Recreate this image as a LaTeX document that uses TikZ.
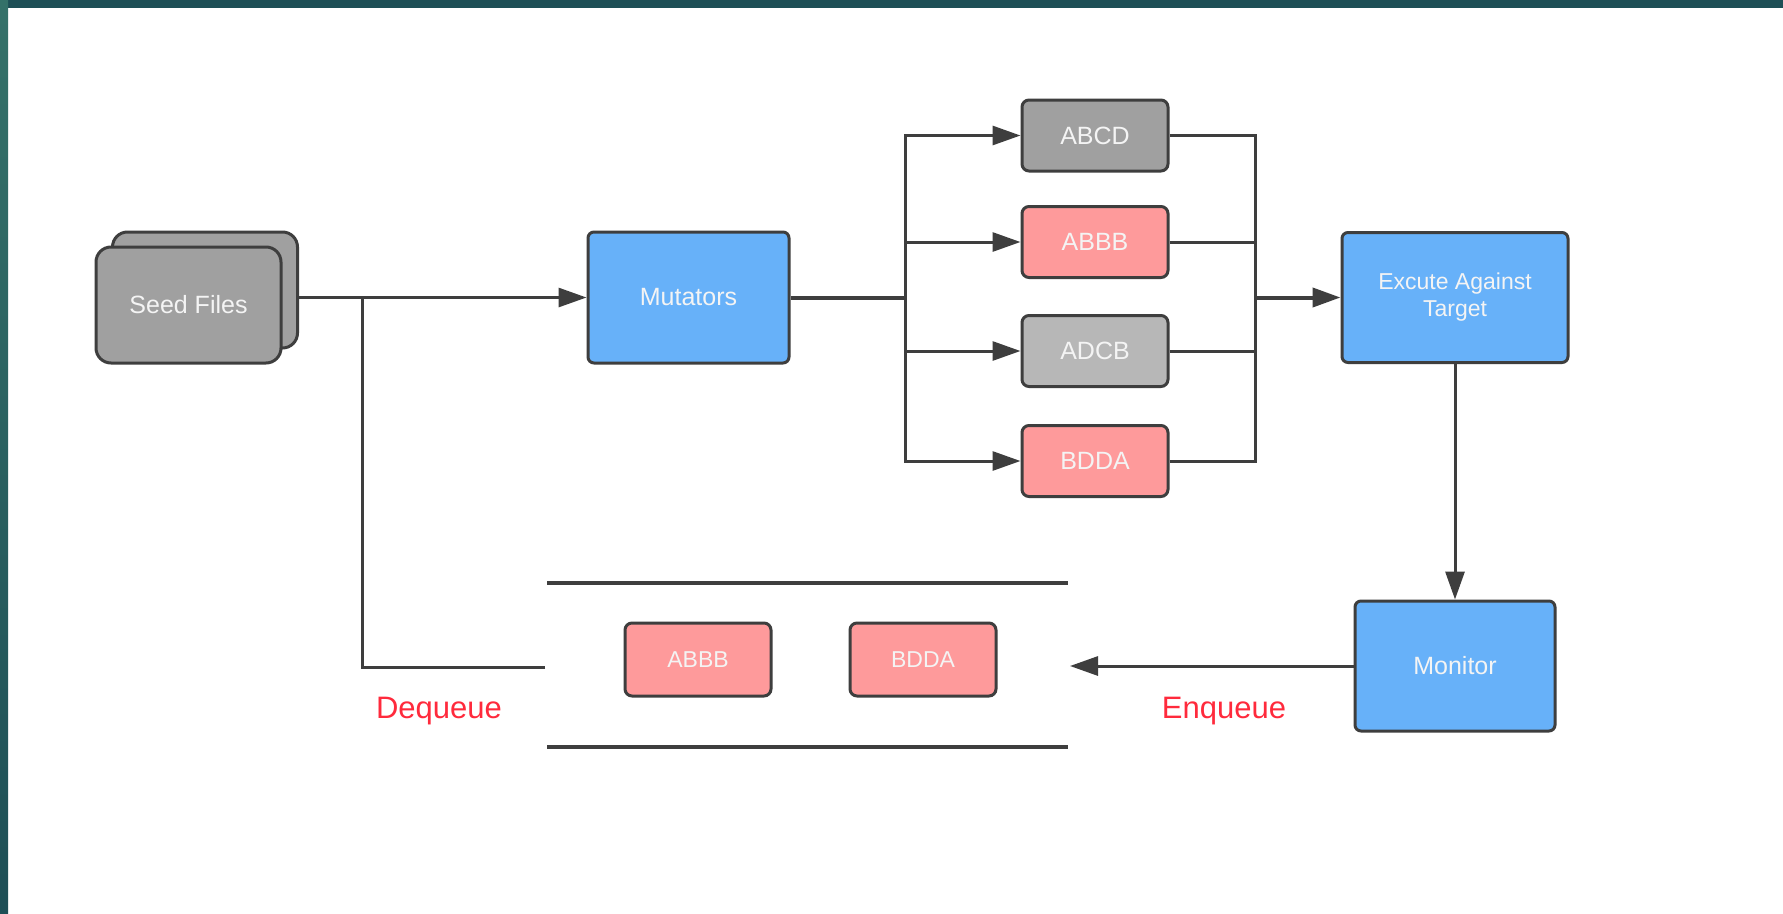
\documentclass[tikz,border=0pt]{standalone}
\usepackage{fontspec}
\setmainfont{Liberation Sans}
\usetikzlibrary{arrows.meta}

\definecolor{edge}{HTML}{3E3E3E}
\definecolor{grayfill}{HTML}{A0A0A0}
\definecolor{lightgrayfill}{HTML}{B7B7B7}
\definecolor{pinkfill}{HTML}{FE9A9B}
\definecolor{bluefill}{HTML}{67B1F9}
\definecolor{labelred}{HTML}{FF2A3C}
\definecolor{tealdark}{HTML}{1E4F56}
\definecolor{teallight}{HTML}{3A7A6E}
\definecolor{boxtext}{HTML}{F4F4F4}

\tikzset{
  box/.style={draw=edge, line width=3pt, rounded corners=7pt, inner sep=0pt,
    text=boxtext, font=\fontsize{25}{30}\selectfont, align=center},
  graybox/.style={box, fill=grayfill, minimum width=146pt, minimum height=71pt},
  lightbox/.style={box, fill=lightgrayfill, minimum width=146pt, minimum height=71pt},
  pinkbox/.style={box, fill=pinkfill, minimum width=146pt, minimum height=71pt},
  queuebox/.style={box, fill=pinkfill, minimum width=146pt, minimum height=73pt,
    font=\fontsize{23}{28}\selectfont},
  bluebox/.style={box, fill=bluefill, rounded corners=6pt},
  seedbox/.style={box, fill=grayfill, rounded corners=15pt,
    minimum width=185pt, minimum height=116pt},
  conn/.style={draw=edge, line width=3pt},
  arrow/.style={conn, -{Triangle[length=28pt,width=19pt]}},
  qline/.style={draw=edge, line width=3.5pt},
  redlabel/.style={text=labelred, font=\fontsize{31}{36}\selectfont, inner sep=0pt}
}

\begin{document}
\begin{tikzpicture}[x=1pt, y=-1pt]
  % page and frame
  \useasboundingbox (0,0) rectangle (1783,913);
  \fill[white] (0,0) rectangle (1783,913);
  \shade[left color=tealdark, middle color=teallight, right color=tealdark]
    (0,0) rectangle (1783,7);
  \shade[top color=teallight!80!tealdark, bottom color=tealdark]
    (0,0) rectangle (8,913);

  % seed files stack
  \node[seedbox] (seedback) at (205,290) {};
  \node[seedbox] (seed) at (188.5,305) {Seed Files};

  % main flow
  \node[bluebox, minimum width=201pt, minimum height=131pt] (mut) at (688.5,297.5) {Mutators};
  \node[bluebox, minimum width=226pt, minimum height=130pt,
        font=\fontsize{23}{27}\selectfont] (exec) at (1455,297.5) {Excute Against\\Target};
  \node[bluebox, minimum width=200pt, minimum height=130pt] (mon) at (1455,666) {Monitor};

  % mutated cases
  \node[graybox]  (abcd) at (1095,135.5) {ABCD};
  \node[pinkbox]  (abbb) at (1095,242)   {ABBB};
  \node[lightbox] (adcb) at (1095,351)   {ADCB};
  \node[pinkbox]  (bdda) at (1095,461)   {BDDA};

  % queue contents
  \node[queuebox] (qabbb) at (698,659.5) {ABBB};
  \node[queuebox] (qbdda) at (923,659.5) {BDDA};

  % queue walls
  \coordinate (qtl) at (547,583);
  \coordinate (qtr) at (1068,583);
  \coordinate (qbl) at (547,747);
  \coordinate (qbr) at (1068,747);
  \draw[qline] (qtl) -- (qtr);
  \draw[qline] (qbl) -- (qbr);

  % junction points
  \coordinate (tap) at (362.5,297.5);
  \coordinate (split) at (905,297.5);
  \coordinate (merge) at (1255,297.5);
  \coordinate (qout) at (545,667);
  \coordinate (qin) at (1070,666);

  % seed files into mutators
  \draw[arrow] (seedback.east |- mut) -- (mut);

  % fan out to cases
  \draw[conn, line width=4pt] (mut) -- (split);
  \foreach \c in {abcd,abbb,adcb,bdda}
    \draw[arrow] (split) |- (\c.west);

  % fan in to execution
  \foreach \c in {abcd,abbb,adcb,bdda}
    \draw[conn] (\c.east) -| (merge);
  \draw[arrow, line width=4pt] (merge) -- (exec.west);

  % execution to monitor
  \draw[arrow] (exec.south) -- (mon.north);

  % enqueue and dequeue
  \draw[arrow] (mon.west |- qin) -- (qin);
  \draw[conn] (qout) -| (tap);

  % labels
  \node[redlabel] (deq) at (439,711) {Dequeue};
  \node[redlabel] (enq) at (1224,711) {Enqueue};
\end{tikzpicture}
\end{document}
